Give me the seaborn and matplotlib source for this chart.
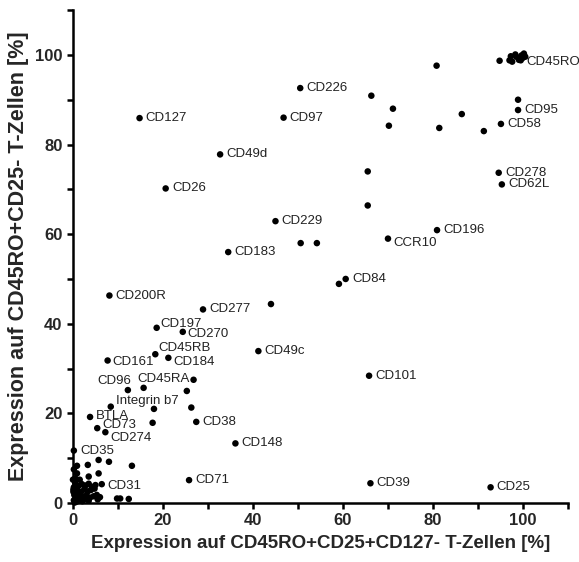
import pandas as pd
import matplotlib
matplotlib.use('Agg')
import matplotlib.pyplot as plt
import seaborn as sns
from matplotlib.ticker import MultipleLocator

# labelled markers
names = ['CD45RO', 'CD95', 'CD58', 'CD226', 'CD127', 'CD97', 'CD49d', 'CD278',
         'CD62L', 'CD26', 'CD229', 'CD196', 'CCR10', 'CD183', 'CD84', 'CD200R',
         'CD277', 'CD197', 'CD270', 'CD49c', 'CD45RB', 'CD184', 'CD161', 'CD101',
         'CD45RA', 'CD96', 'Integrin b7', 'BTLA', 'CD38', 'CD73', 'CD274',
         'CD148', 'CD35', 'CD71', 'CD39', 'CD31', 'CD25']
x_lab = [99.5, 98.9, 95.1, 50.5, 14.8, 46.8, 32.7, 94.6,
         95.3, 20.6, 45.0, 80.9, 70.0, 34.5, 60.6, 8.1,
         28.9, 18.6, 24.4, 41.2, 18.3, 21.2, 7.7, 65.8,
         26.8, 12.2, 8.4, 3.8, 27.4, 5.4, 7.2,
         36.1, 0.2, 25.8, 66.1, 6.4, 92.8]
y_lab = [98.8, 87.7, 84.6, 92.6, 85.9, 86.0, 77.8, 73.7,
         71.1, 70.2, 62.9, 60.9, 59.0, 56.0, 50.0, 46.3,
         43.2, 39.1, 38.2, 33.9, 33.2, 32.4, 31.8, 28.4,
         27.5, 25.2, 21.5, 19.2, 18.1, 16.7, 15.8,
         13.3, 11.7, 5.1, 4.4, 4.2, 3.5]

# markers without a label
x_other = [94.8, 97.3, 97.6, 98.5, 99.1, 99.7, 100.2, 99.9, 98.3, 100.5, 97.0,
           80.8, 98.9, 71.1, 86.4, 70.2, 81.4, 91.3, 66.3, 65.5, 65.5,
           50.6, 54.2, 59.1, 44.0, 15.7, 25.3, 18.0, 26.3, 17.7,
           3.3, 5.7, 8.0, 13.1, 0.9, 3.5, 5.7, 0.9, 5.0, 9.8, 10.5, 12.4,
           0.5, 1.2, 2.0, 2.8, 3.5, 4.2, 1.0, 1.8, 2.5, 3.3, 4.0, 4.8,
           0.3, 1.0, 1.6, 2.3, 3.0, 3.8, 4.6, 5.3, 0.2, 0.8, 1.4, 2.1,
           2.8, 3.5, 0.4, 1.1, 0.1, 0.2, 5.5, 6.0, 0.5, 1.5, 0.1, 0.0, 0.2]
y_other = [98.7, 99.7, 98.5, 99.6, 98.9, 99.9, 100.3, 99.3, 100.1, 99.6, 98.8,
           97.6, 90.0, 88.0, 86.8, 84.2, 83.7, 83.0, 90.9, 74.0, 66.4,
           58.0, 58.0, 48.9, 44.4, 25.7, 25.0, 21.0, 21.3, 17.9,
           8.5, 9.6, 9.2, 8.3, 8.3, 5.9, 6.6, 6.6, 4.0, 1.0, 1.0, 0.9,
           4.5, 3.8, 4.2, 3.9, 4.3, 3.6, 2.8, 2.5, 3.0, 2.6, 2.9, 3.2,
           1.8, 1.5, 1.9, 1.4, 1.7, 1.2, 1.5, 1.8, 0.6, 0.3, 0.8, 0.4,
           0.9, 0.5, 0.1, 1.0, 2.5, 3.5, 0.8, 1.3, 5.5, 5.2, 3.0, 5.2, 7.5]

# label placement tweaks (offset points, alignment)
offsets = {'CD45RO': (4.3, -1.4), 'CD45RA': (-2.5, 0.5, 'right'),
           'CD96': (-10, 6.2, 'center'), 'CD45RB': (2, 4.8),
           'CD184': (3.6, -2.9), 'CD161': (3.6, -1.4), 'CD197': (2.9, 2.9),
           'CD270': (3.6, -1.4), 'Integrin b7': (3.6, 3.8), 'CD73': (3.6, 2.0),
           'CD274': (3.6, -4.4), 'CD31': (4.3, -1.4), 'CCR10': (3.6, -2.9),
           'BTLA': (4.5, 0.8)}

df = pd.DataFrame({'x': x_lab + x_other, 'y': y_lab + y_other})

sns.set_theme(style='ticks')
plt.rcParams['font.family'] = ['Liberation Sans', 'DejaVu Sans']

fig = plt.figure(figsize=(5.79, 5.62), dpi=100)
ax = fig.add_axes([0.126, 0.105, 0.855, 0.877])
sns.scatterplot(data=df, x='x', y='y', color='black', s=22, edgecolor='none',
                ax=ax, clip_on=False)

for n, xv, yv in zip(names, x_lab, y_lab):
    o = offsets.get(n, (4.5, 0))
    ha = o[2] if len(o) > 2 else 'left'
    ax.annotate(n, (xv, yv), xytext=(o[0], o[1]), textcoords='offset points',
                ha=ha, va='center', fontsize=9.5, color='#222222')

ax.set_xlim(0, 110)
ax.set_ylim(0, 110)
ax.xaxis.set_minor_locator(MultipleLocator(10))
ax.yaxis.set_minor_locator(MultipleLocator(10))
ax.set_xticks([0, 20, 40, 60, 80, 100])
ax.set_yticks([0, 20, 40, 60, 80, 100])
sns.despine(ax=ax)
for s in ['left', 'bottom']:
    ax.spines[s].set_linewidth(1.8)
    ax.spines[s].set_color('black')
ax.tick_params(which='both', direction='out', length=4, width=1.8, color='black')
ax.tick_params(labelsize=12, pad=3.5)
for t in ax.get_xticklabels() + ax.get_yticklabels():
    t.set_fontweight('bold')

ax.set_xlabel('Expression auf CD45RO+CD25+CD127- T-Zellen [%]',
              fontsize=13.5, fontweight='bold', labelpad=5)
ax.set_ylabel('Expression auf CD45RO+CD25- T-Zellen [%]',
              fontsize=15.5, fontweight='bold', labelpad=4)
ax.grid(False)

fig.savefig('out.png', dpi=100)
